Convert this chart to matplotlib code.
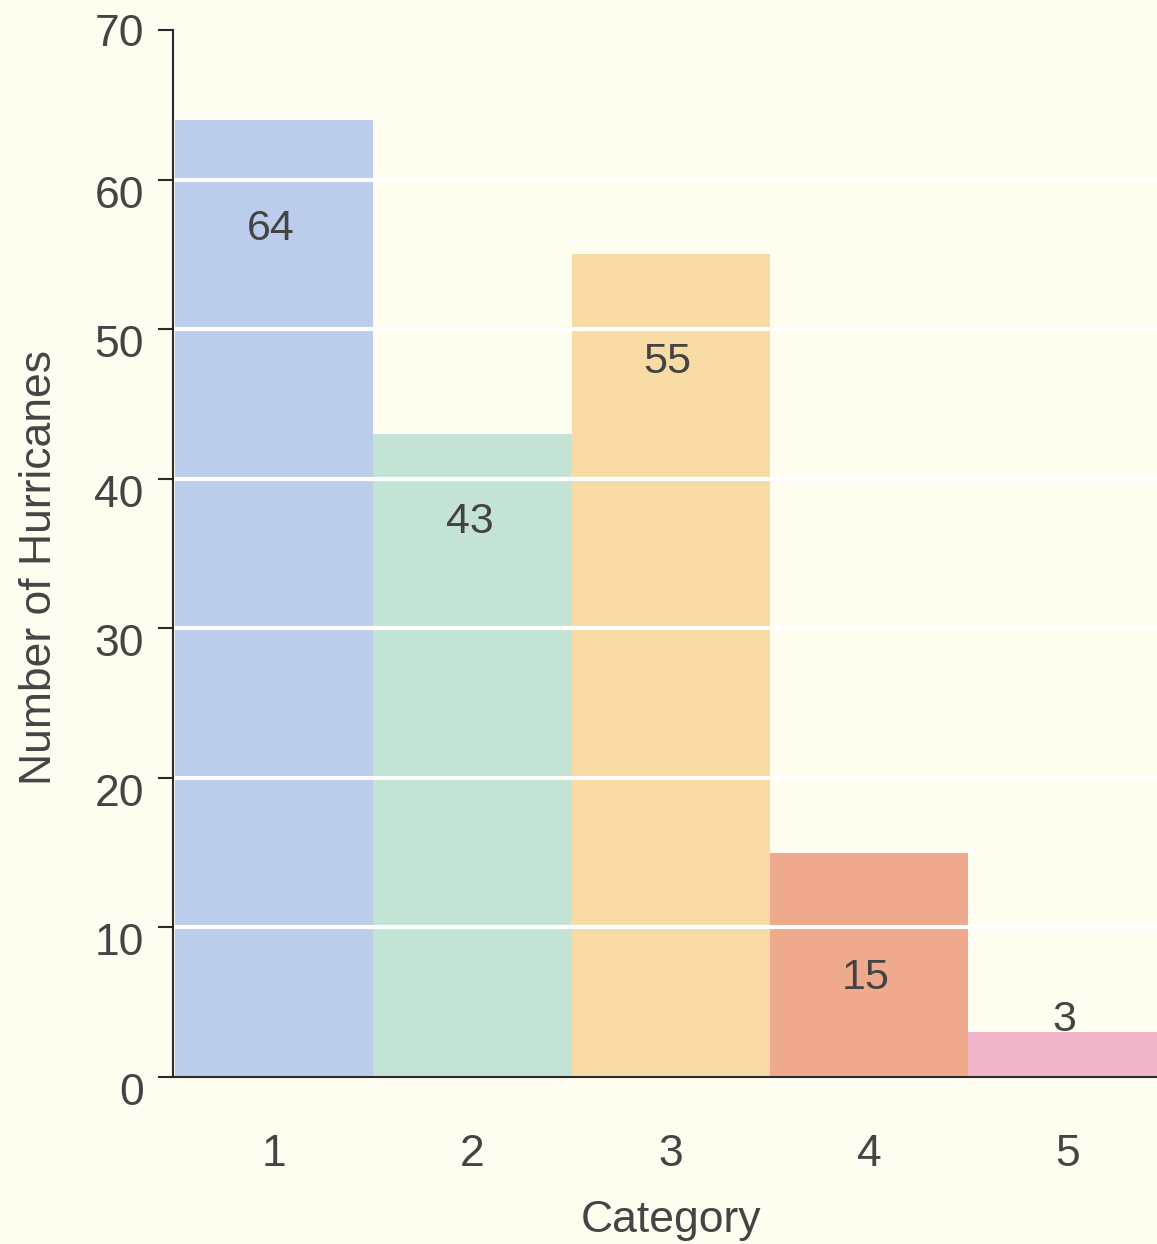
import matplotlib
matplotlib.use("Agg")
import matplotlib.pyplot as plt
from matplotlib.transforms import ScaledTranslation

categories = [1, 2, 3, 4, 5]
hurricanes = [64, 43, 55, 15, 3]
bar_colors = ["#BCCDEC", "#C3E3D4", "#F8DAA5", "#EFAA8E", "#F2B6CB"]
label_offsets = [-7.3, -5.9, -7.2, -8.4, 0.8]
y_ticks = [0, 10, 20, 30, 40, 50, 60, 70]

bg = "#FFFDF0"
ink = "#444444"
family = ["Liberation Sans", "DejaVu Sans"]

fig = plt.figure(figsize=(11.57, 12.44), dpi=100, facecolor=bg)
ax = fig.add_axes([173 / 1157, 1 - 1077 / 1244, 1 - 173 / 1157, (1077 - 30) / 1244])
ax.set_facecolor(bg)

ax.bar(categories, hurricanes, width=1.0, color=bar_colors, zorder=1, linewidth=0)

for y in y_ticks[1:-1]:
    ax.axhline(y, color="white", linewidth=3, zorder=2)

for x, v, off in zip(categories, hurricanes, label_offsets):
    ax.text(x - 0.015, v + off, str(v), ha="center", va="center", fontsize=31,
            color=ink, zorder=3, family=family)

ax.set_xlim(0.49, 5.453)
ax.set_ylim(0, 70)

for s in ["top", "right"]:
    ax.spines[s].set_visible(False)
for s in ["left", "bottom"]:
    ax.spines[s].set_color("#2a2a2a")
    ax.spines[s].set_linewidth(1.5)
    ax.spines[s].set_zorder(4)

ax.set_yticks(y_ticks)
ax.set_yticklabels([str(t) for t in y_ticks])
ax.set_xticks(categories)
ax.set_xticklabels([str(c) for c in categories])
ax.tick_params(axis="y", length=11, width=1.5, color="#2a2a2a", pad=10,
               labelsize=32, labelcolor=ink)
ax.tick_params(axis="x", length=0, pad=41, labelsize=32, labelcolor=ink)

for lab in ax.get_yticklabels() + ax.get_xticklabels():
    lab.set_fontfamily(family)

# numeric labels below 70 sit slightly under their tick
for t, lab in zip(y_ticks, ax.get_yticklabels()):
    if t < 70:
        lab.set_transform(lab.get_transform() +
                          ScaledTranslation(0, -12 / 100, fig.dpi_scale_trans))

ax.set_xlabel("Category", fontsize=32, color=ink, labelpad=18, family=family)
ax.set_ylabel("Number of Hurricanes", fontsize=32, color=ink, labelpad=25, family=family)
ax.xaxis.label.set_x(0.506)
ax.yaxis.label.set_y(0.487)

fig.savefig("out.png", dpi=100, facecolor=bg)
